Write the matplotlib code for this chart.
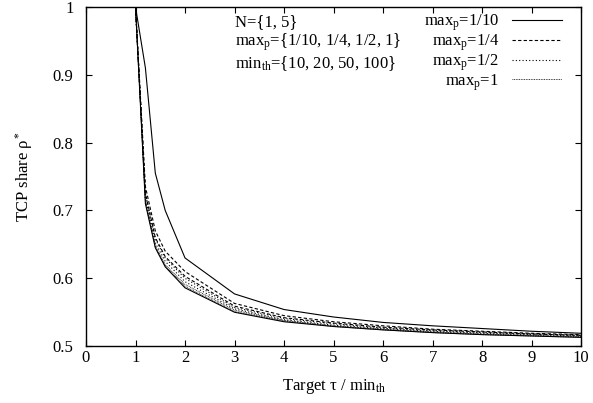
import numpy as np
import matplotlib.pyplot as plt

plt.rcParams['font.family'] = ['Liberation Serif', 'DejaVu Serif']
plt.rcParams['mathtext.fontset'] = 'custom'
plt.rcParams['mathtext.rm'] = 'Liberation Serif'
plt.rcParams['mathtext.it'] = 'Liberation Serif:italic'
plt.rcParams['font.size'] = 12

# Datos --------------------------------------------------------------------
x = [0, 1, 1.2, 1.4, 1.6, 2, 3, 4, 5, 6, 7, 8, 9, 10]

# max_p = 1/10 (continua)
solid_a = [1, 1, 0.91, 0.755, 0.700, 0.630, 0.577, 0.554, 0.543, 0.535, 0.530, 0.526, 0.522, 0.519]
solid_b = [1, 1, 0.710, 0.645, 0.617, 0.586, 0.550, 0.536, 0.529, 0.524, 0.520, 0.517, 0.515, 0.513]
# max_p = 1/4 (rayas)
dash_a = [1, 1, 0.735, 0.670, 0.640, 0.610, 0.563, 0.545, 0.536, 0.530, 0.525, 0.522, 0.519, 0.517]
dash_b = [1, 1, 0.725, 0.660, 0.632, 0.603, 0.559, 0.542, 0.534, 0.528, 0.524, 0.521, 0.518, 0.516]
# max_p = 1/2 (puntos)
dot_a = [1, 1, 0.725, 0.658, 0.630, 0.600, 0.557, 0.541, 0.533, 0.527, 0.523, 0.520, 0.518, 0.516]
dot_b = [1, 1, 0.718, 0.652, 0.625, 0.595, 0.555, 0.539, 0.531, 0.526, 0.522, 0.519, 0.517, 0.515]
# max_p = 1 (puntos finos)
fine_a = [1, 1, 0.715, 0.648, 0.620, 0.591, 0.553, 0.538, 0.530, 0.525, 0.521, 0.518, 0.516, 0.514]
fine_b = [1, 1, 0.712, 0.646, 0.618, 0.588, 0.551, 0.537, 0.529, 0.524, 0.520, 0.517, 0.515, 0.513]

etiquetas = [r'max$_\mathrm{p}$=1/10', r'max$_\mathrm{p}$=1/4',
             r'max$_\mathrm{p}$=1/2', r'max$_\mathrm{p}$=1']

# Grafica ------------------------------------------------------------------
fig = plt.figure(figsize=(5.93, 4.03), dpi=100)
ax = fig.add_axes([0.145, 0.141, 0.835, 0.842])

lw = 0.8
ax.plot(x, solid_a, color='black', lw=lw, label=etiquetas[0])
ax.plot(x, solid_b, color='black', lw=lw)
ax.plot(x, dash_a, color='black', lw=lw, dashes=(3, 2), label=etiquetas[1])
ax.plot(x, dash_b, color='black', lw=lw, dashes=(3, 2))
ax.plot(x, dot_a, color='black', lw=lw, dashes=(1, 2), label=etiquetas[2])
ax.plot(x, dot_b, color='black', lw=lw, dashes=(1, 2))
ax.plot(x, fine_a, color='black', lw=0.6, dashes=(1, 1), label=etiquetas[3])
ax.plot(x, fine_b, color='black', lw=0.6, dashes=(1, 1))

ax.set_xlim(0, 10)
ax.set_ylim(0.5, 1)
ax.set_xticks(np.arange(0, 11, 1))
ax.set_yticks(np.arange(0.5, 1.01, 0.1))
ax.yaxis.set_major_formatter(plt.FormatStrFormatter('%g'))
ax.tick_params(direction='in', top=True, right=True, length=4, width=0.8)
ax.tick_params(axis='x', pad=3)
ax.tick_params(axis='y', pad=9)
for s in ax.spines.values():
    s.set_linewidth(1.0)

ax.set_xlabel(r'Target τ / min$_\mathrm{th}$', labelpad=8)
ax.set_ylabel(r'TCP share ρ$^*$', labelpad=13)

ax.text(0.30, 0.978, 'N={1, 5}\n' + r'max$_\mathrm{p}$={1/10, 1/4, 1/2, 1}' + '\n'
        + r'min$_\mathrm{th}$={10, 20, 50, 100}',
        transform=ax.transAxes, va='top', ha='left', linespacing=1.1)

ax.legend(loc='upper right', bbox_to_anchor=(0.962, 0.983), frameon=False,
          markerfirst=False, handlelength=3.0, handletextpad=0.8,
          labelspacing=-0.05, borderpad=0, borderaxespad=0)

fig.savefig('out.png', dpi=100)
